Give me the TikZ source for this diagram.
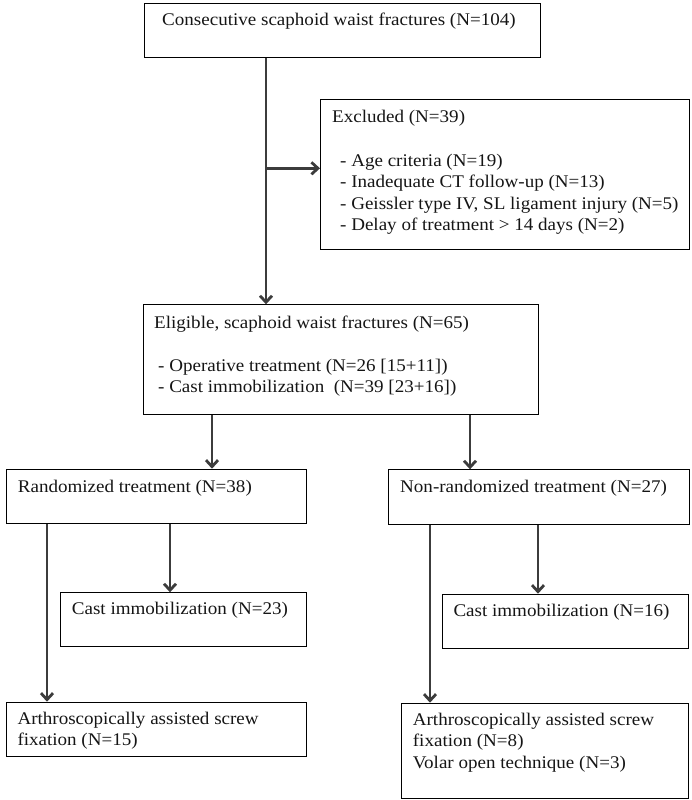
\documentclass[tikz,border=0pt]{standalone}
\usepackage{fontspec}
\setmainfont{Liberation Serif}[FakeStretch=1.07]
\usetikzlibrary{arrows.meta}
\definecolor{arrowgray}{HTML}{3C3C3C}
\definecolor{textblack}{HTML}{151515}
\begin{document}
\begin{tikzpicture}[x=1pt,y=-1pt,
  box/.style={draw=black, line width=0.9pt, inner sep=0pt, anchor=north west, fill=none},
  txt/.style={anchor=base west, inner sep=0pt, text=textblack, font=\fontsize{17.8}{21.4}\selectfont, align=left},
  arr/.style={draw=arrowgray, line width=2.8pt, -{Straight Barb[length=6.5pt,width=12pt]}}]
\useasboundingbox (0,0) rectangle (692,800);
% boxes
\node[box, minimum width=395.9pt, minimum height=54pt] (box1) at (143.6,3.3) {};
\node[box, minimum width=369pt, minimum height=150.3pt] (excl) at (320,99) {};
\node[box, minimum width=395pt, minimum height=109.7pt] (elig) at (143,304.3) {};
\node[box, minimum width=300.3pt, minimum height=54.6pt] (rand) at (5.7,468.7) {};
\node[box, minimum width=300.5pt, minimum height=54.7pt] (nonrand) at (388,469.3) {};
\node[box, minimum width=246pt, minimum height=53.7pt] (castL) at (60,592.3) {};
\node[box, minimum width=246pt, minimum height=54.3pt] (castR) at (442.3,593.7) {};
\node[box, minimum width=300.3pt, minimum height=54.3pt] (arthL) at (5.7,701.7) {};
\node[box, minimum width=287.3pt, minimum height=95.6pt] (arthR) at (401,702.7) {};
% texts (multi-line nodes are placed at the baseline of their last line)
\node[txt] (t1) at (162,25.7) {Consecutive scaphoid waist fractures (N=104)};
\node[txt] (t2) at (332,122) {Excluded (N=39)};
\node[txt] (t3) at (340,230.7) {- Age criteria (N=19)\\- Inadequate CT follow-up (N=13)\\- Geissler type IV, SL ligament injury (N=5)\\- Delay of treatment > 14 days (N=2)};
\node[txt] (t4) at (154,328.8) {Eligible, scaphoid waist fractures (N=65)};
\node[txt] (t5) at (158,392.9) {- Operative treatment (N=26 [15+11])\\- Cast immobilization\ \ (N=39 [23+16])};
\node[txt] (t6) at (17.7,492) {Randomized treatment (N=38)};
\node[txt] (t7) at (400,492.5) {Non-randomized treatment (N=27)};
\node[txt] (t8) at (71.7,614.8) {Cast immobilization (N=23)};
\node[txt] (t9) at (453.3,616) {Cast immobilization (N=16)};
\node[txt] (t10) at (17.3,745.4) {Arthroscopically assisted screw\\fixation (N=15)};
\node[txt] (t11) at (412.7,768.3) {Arthroscopically assisted screw\\fixation (N=8)\\Volar open technique (N=3)};
% connector guide coordinates
\coordinate (cmain) at (266,0);
\coordinate (cexcl) at (0,168.3);
\coordinate (crand) at (212,0);
\coordinate (cnon) at (470,0);
\coordinate (carL) at (47,0);
\coordinate (ccaL) at (170,0);
\coordinate (carR) at (430,0);
\coordinate (ccaR) at (538,0);
% connectors
\draw[arr] (box1.south -| cmain) -- (elig.north -| cmain);
\draw[arr] (cmain |- cexcl) -- (excl.west |- cexcl);
\draw[arr] (elig.south -| crand) -- (rand.north -| crand);
\draw[arr] (elig.south -| cnon) -- (nonrand.north -| cnon);
\draw[arr] (rand.south -| carL) -- (arthL.north -| carL);
\draw[arr] (rand.south -| ccaL) -- (castL.north -| ccaL);
\draw[arr] (nonrand.south -| carR) -- (arthR.north -| carR);
\draw[arr] (nonrand.south -| ccaR) -- (castR.north -| ccaR);
\end{tikzpicture}
\end{document}
